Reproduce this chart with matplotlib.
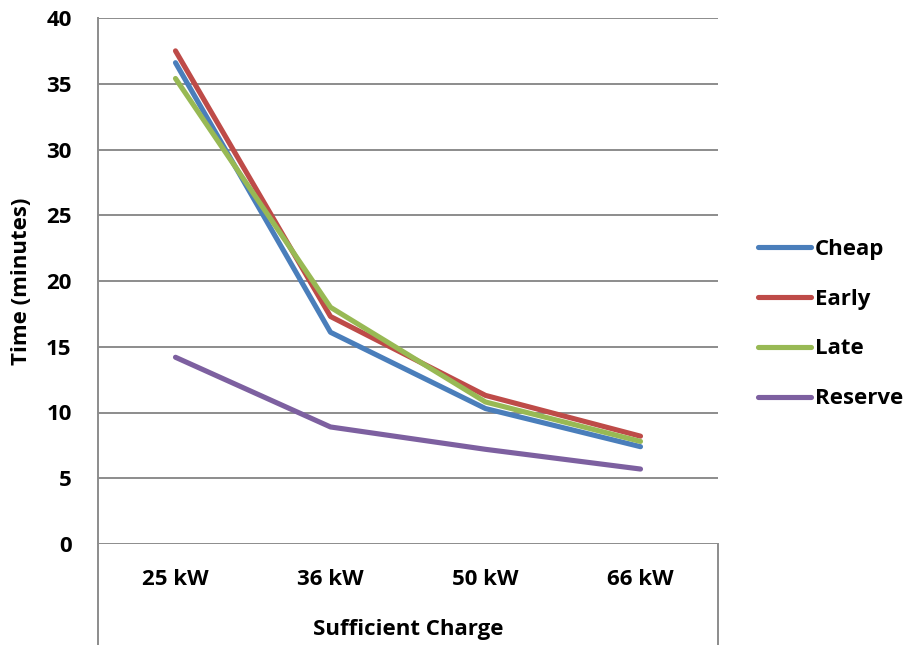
import matplotlib
matplotlib.use("Agg")
import matplotlib.pyplot as plt
from matplotlib.lines import Line2D

# Charging time by charger power for each scheduling strategy
categories = ["25 kW", "36 kW", "50 kW", "66 kW"]
cheap = [36.6, 16.1, 10.3, 7.4]
early = [37.5, 17.3, 11.3, 8.2]
late = [35.4, 18.0, 10.8, 7.8]
reserve = [14.2, 8.9, 7.2, 5.7]
series_names = ["Cheap", "Early", "Late", "Reserve"]
y_ticks = [0, 5, 10, 15, 20, 25, 30, 35, 40]

colors = ["#4A7EBB", "#BE4B48", "#98B954", "#7D60A0"]
grid_color = "#8C8C8C"
font = "Open Sans"
fs = 16

fig = plt.figure(figsize=(9.08, 6.45), dpi=100)
W, H = 908, 645
left, right, top, bottom = 98, 718, 18, 544
ax = fig.add_axes([left / W, 1 - bottom / H, (right - left) / W, (bottom - top) / H])

xs = list(range(len(categories)))
for name, vals, c in zip(series_names, [cheap, early, late, reserve], colors):
    ax.plot(xs, vals, color=c, lw=3.7, solid_capstyle="round",
            solid_joinstyle="round", label=name, zorder=3)

ax.set_xlim(-0.5, len(categories) - 0.5)
ax.set_ylim(0, 40)
ax.set_yticks(y_ticks)
ax.set_yticklabels([str(v) for v in y_ticks], fontfamily=font,
                   fontweight="bold", fontsize=fs)
ax.set_xticks(xs)
ax.set_xticklabels(categories, fontfamily=font, fontweight="bold", fontsize=fs)
ax.tick_params(axis="y", length=0, pad=19)
ax.tick_params(axis="x", length=0, pad=18)

for v in y_ticks:
    ax.axhline(v, color=grid_color, lw=1.4, zorder=1)

for s in ["top", "right", "bottom", "left"]:
    ax.spines[s].set_visible(False)

# Category axis frame: left line runs the full height, right divider below the plot
ext = (H - bottom) / (bottom - top)
ax.add_line(Line2D([0, 0], [-ext, 1], transform=ax.transAxes, color=grid_color,
                   lw=1.4, clip_on=False, zorder=2))
ax.add_line(Line2D([1, 1], [-ext, 0], transform=ax.transAxes, color=grid_color,
                   lw=1.4, clip_on=False, zorder=2))

fig.text(22 / W, 1 - 281 / H, "Time (minutes)", rotation=90, ha="center",
         va="center", fontfamily=font, fontweight="bold", fontsize=fs)
fig.text((left + right) / 2 / W, 1 - 629 / H, "Sufficient Charge",
         ha="center", va="center", fontfamily=font, fontweight="bold", fontsize=fs)

leg = ax.legend(loc="center left", bbox_to_anchor=(758 / W, 1 - 324 / H),
                bbox_transform=fig.transFigure, frameon=False,
                prop={"family": font, "weight": "bold", "size": fs},
                handlelength=2.4, handletextpad=0.15, labelspacing=1.3,
                borderpad=0, borderaxespad=0)

fig.savefig("out.png", dpi=100, facecolor="white")
